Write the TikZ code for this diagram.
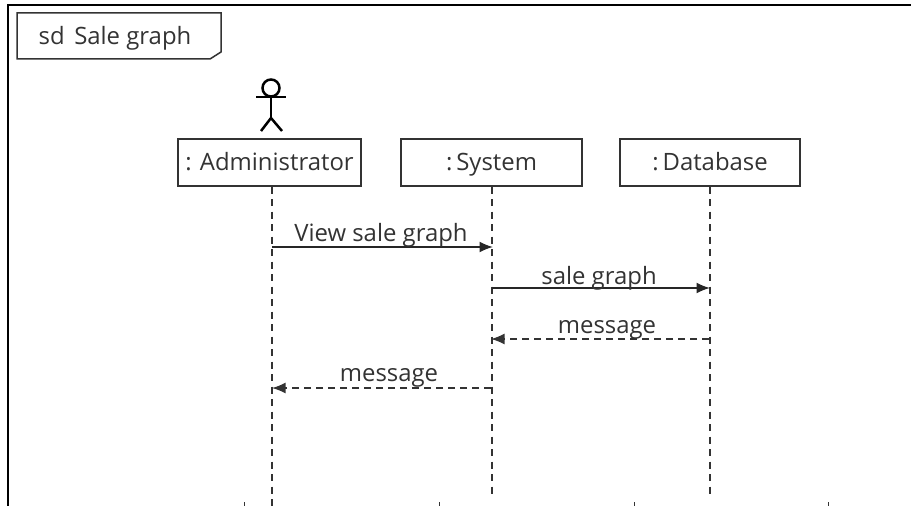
\documentclass[tikz,border=0pt]{standalone}
\usepackage{fontspec}
\setmainfont{Open Sans}
\usepackage{tikz}
\usetikzlibrary{arrows.meta}

\definecolor{inkgray}{gray}{0.2}
\tikzset{
    lifebox/.style={draw=inkgray, line width=0.03cm, minimum width=3.62cm, minimum height=0.94cm, inner sep=0pt, text=inkgray, text height=0.36cm, text depth=0.02cm, font=\fontsize{13.6}{16}\selectfont},
    lifeline/.style={draw=inkgray, line width=0.03cm, dash pattern=on 0.14cm off 0.11cm},
    callmsg/.style={-{Latex[length=0.27cm, width=0.22cm]}, line width=0.035cm, black!85},
    replymsg/.style={-{Latex[length=0.27cm, width=0.22cm]}, line width=0.03cm, inkgray, dash pattern=on 0.14cm off 0.1cm},
    msglabel/.style={text=inkgray, inner sep=0pt, font=\fontsize{13.6}{16}\selectfont},
    actorline/.style={black, line width=0.05cm},
}

\begin{document}
\begin{tikzpicture}[x=0.02cm, y=-0.02cm]
        \useasboundingbox (0, 0) rectangle (911, 506);

        % outer frame, open on the right and at the bottom
        \draw[line width=0.05cm, black] (8, 506) -- (8, 5) -- (911, 5);

        % name tag
        \draw[draw=inkgray, line width=0.03cm] (17, 13) -- (221, 13) -- (221, 52) -- (210, 59) -- (17, 59) -- cycle;
        \node[msglabel, anchor=base] (tagname) at (115, 45) {sd\hspace{0.4em}Sale graph};

        % actor
        \draw[actorline] (271, 88) circle [radius=8.5];
        \draw[actorline] (256, 97) -- (286, 97);
        \draw[actorline] (271, 97) -- (271, 118);
        \draw[actorline] (261, 131) -- (271, 118) -- (282, 131);

        % lifeline heads
        \node[lifebox, minimum width=3.66cm] (admin) at (269.5, 162.5) {: Administrator};
        \node[lifebox] (system) at (491.5, 162.5) {:\,System};
        \node[lifebox, minimum width=3.6cm] (database) at (710, 162.5) {:\,Database};

        % lifelines
        \coordinate (adminend) at (272, 506);
        \coordinate (systemend) at (492, 498);
        \coordinate (databaseend) at (710, 498);

        \draw[lifeline] (admin.south -| adminend) -- (adminend);
        \draw[lifeline] (system.south -| systemend) -- (systemend);
        \draw[lifeline] (database.south -| databaseend) -- (databaseend);

        % message ends
        \coordinate (adminview) at (272, 247);
        \coordinate (systemview) at (493, 247);
        \coordinate (systemsale) at (492, 288);
        \coordinate (databasesale) at (710, 288);
        \coordinate (databasemsg) at (709, 339);
        \coordinate (systemmsg) at (491, 339);
        \coordinate (systemback) at (491, 388);
        \coordinate (adminback) at (272, 388);

        \draw[callmsg] (adminview) -- (systemview);
        \node[msglabel, anchor=base] (viewtext) at (381, 241) {View sale graph};

        \draw[callmsg] (systemsale) -- (databasesale);
        \node[msglabel, anchor=base] (saletext) at (599, 284) {sale graph};

        \draw[replymsg] (databasemsg) -- (systemmsg);
        \node[msglabel, anchor=base] (msgtext) at (607, 333) {message};

        \draw[replymsg] (systemback) -- (adminback);
        \node[msglabel, anchor=base] (backtext) at (389, 381) {message};

        % cut-off marks along the bottom edge
        \foreach \x in {244, 439.5, 634, 828} {
            \draw[inkgray, line width=0.02cm] (\x, 502) -- (\x, 506);
        }
    \end{tikzpicture}
\end{document}
